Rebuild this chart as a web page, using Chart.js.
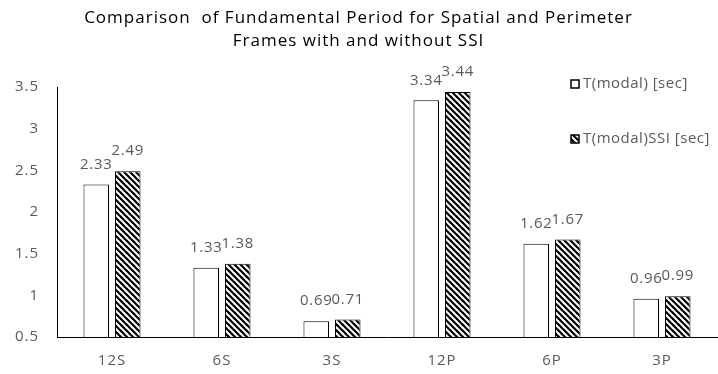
<!DOCTYPE html>
<html>
<head>
<meta charset="utf-8">
<script src="https://cdn.jsdelivr.net/npm/chart.js@4/dist/chart.umd.min.js"></script>
<style>
  html, body { margin: 0; padding: 0; background: #fff; }
  #wrap { width: 718px; height: 374px; }
</style>
</head>
<body>
<div id="wrap"><canvas id="periodChart" width="718" height="374"></canvas></div>
<script>
const frames = ['12S', '6S', '3S', '12P', '6P', '3P'];
const modalPeriod = [2.33, 1.33, 0.69, 3.34, 1.62, 0.96];
const modalPeriodSSI = [2.49, 1.38, 0.71, 3.44, 1.67, 0.99];
const seriesNames = ['T(modal) [sec]', 'T(modal)SSI [sec]'];
const yMin = 0.5;
const yMax = 3.5;
const yStep = 0.5;

const FONT = '"Open Sans", "Noto Sans", sans-serif';
const GREY = '#595959';

const canvas = document.getElementById('periodChart');
const ctx = canvas.getContext('2d');

// diagonal black/white stripes for the SSI series
const makeHatch = () => {
  const size = 6;
  const tile = document.createElement('canvas');
  tile.width = size;
  tile.height = size;
  const c = tile.getContext('2d');
  c.fillStyle = '#fff';
  c.fillRect(0, 0, size, size);
  c.strokeStyle = '#000';
  c.lineWidth = 2.2;
  for (let k = -1; k <= 1; k++) {
    c.beginPath();
    c.moveTo(k * size - 1, -1);
    c.lineTo(k * size + size + 1, size + 1);
    c.stroke();
  }
  return ctx.createPattern(tile, 'repeat');
};
const hatch = makeHatch();

// slightly looser text for title and axis labels
const spacing = {
  id: 'spacing',
  beforeUpdate(chart) { chart.ctx.letterSpacing = '1px'; },
  beforeDraw(chart) { chart.ctx.letterSpacing = '1px'; }
};

// value printed above each bar
const barLabels = {
  id: 'barLabels',
  afterDatasetsDraw(chart) {
    const c = chart.ctx;
    c.save();
    c.letterSpacing = '0.7px';
    c.font = `15px ${FONT}`;
    c.fillStyle = GREY;
    c.textAlign = 'center';
    c.textBaseline = 'middle';
    chart.data.datasets.forEach((ds, i) => {
      chart.getDatasetMeta(i).data.forEach((bar, j) => {
        c.fillText(ds.data[j].toFixed(2), bar.x, bar.y - 20);
      });
    });
    c.restore();
  }
};

// legend sits inside the plot, upper right
const sideLegend = {
  id: 'sideLegend',
  afterDraw(chart) {
    const c = chart.ctx;
    const x = 571;
    const rows = [84, 139];
    c.save();
    c.letterSpacing = '0.5px';
    c.font = `15px ${FONT}`;
    c.textBaseline = 'middle';
    chart.data.datasets.forEach((ds, i) => {
      const y = rows[i];
      c.fillStyle = ds.backgroundColor;
      c.fillRect(x, y - 4, 8, 8);
      c.strokeStyle = '#000';
      c.lineWidth = 1.5;
      c.strokeRect(x, y - 4, 8, 8);
      c.fillStyle = GREY;
      c.fillText(ds.label, x + 12, y);
    });
    c.restore();
  }
};

new Chart(ctx, {
  type: 'bar',
  data: {
    labels: frames,
    datasets: [
      {
        label: seriesNames[0],
        data: modalPeriod,
        backgroundColor: '#fff',
        borderColor: '#000',
        borderWidth: 1,
        categoryPercentage: 0.573,
        barPercentage: 0.81
      },
      {
        label: seriesNames[1],
        data: modalPeriodSSI,
        backgroundColor: hatch,
        borderColor: '#000',
        borderWidth: 1,
        categoryPercentage: 0.573,
        barPercentage: 0.81
      }
    ]
  },
  options: {
    responsive: false,
    animation: false,
    layout: { padding: { left: 0, right: 1, top: 0, bottom: 0 } },
    plugins: {
      legend: { display: false },
      tooltip: { enabled: false },
      title: {
        display: true,
        text: ['Comparison  of Fundamental Period for Spatial and Perimeter', 'Frames with and without SSI'],
        color: '#000',
        font: { family: FONT, size: 17, weight: 'normal', lineHeight: '23px' },
        padding: { top: 7, bottom: 34 }
      }
    },
    scales: {
      x: {
        grid: { display: false, drawTicks: false },
        border: { display: true, color: '#000', width: 1 },
        ticks: { color: GREY, font: { family: FONT, size: 15 }, padding: 15 },
        afterFit: scale => { scale.height = 37; }
      },
      y: {
        min: yMin,
        max: yMax,
        grid: { display: false, drawTicks: false },
        border: { display: true, color: '#000', width: 1 },
        ticks: {
          stepSize: yStep,
          color: GREY,
          font: { family: FONT, size: 15 },
          padding: 18,
          callback: value => String(value)
        },
        afterFit: scale => { scale.width = 57; }
      }
    }
  },
  plugins: [spacing, barLabels, sideLegend]
});
</script>
</body>
</html>
